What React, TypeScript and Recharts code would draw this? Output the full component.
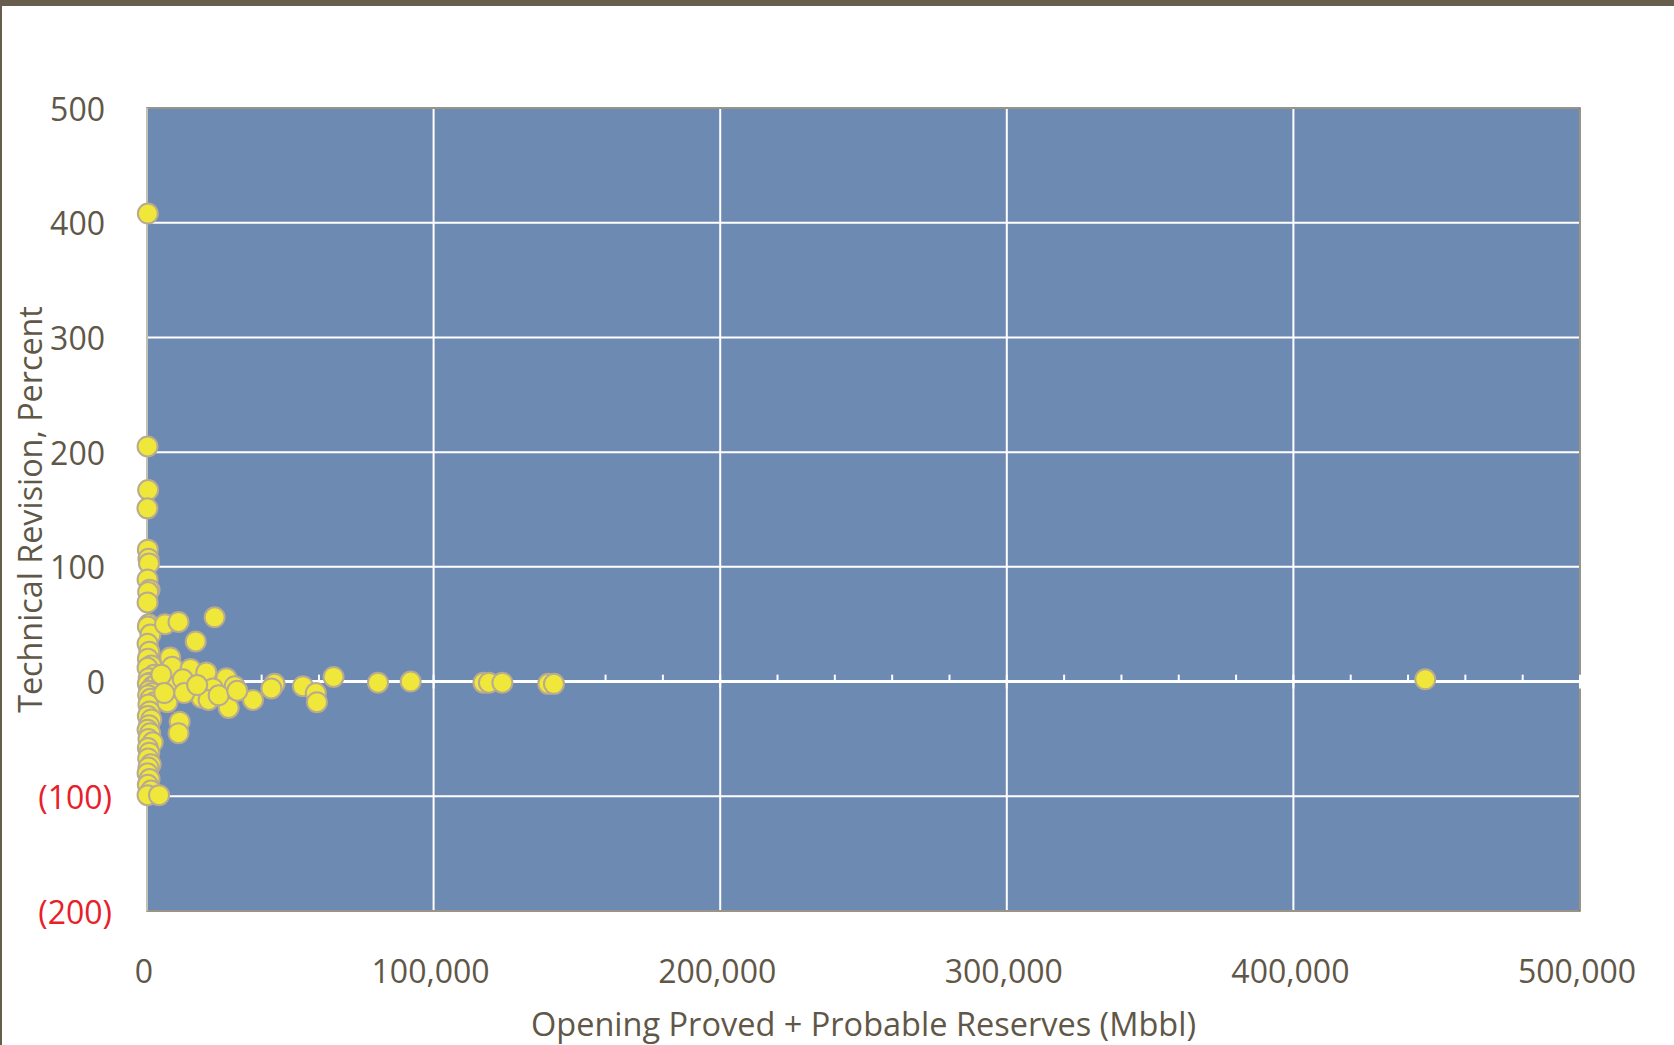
import { ScatterChart, Scatter, XAxis, YAxis, CartesianGrid, ReferenceLine, ReferenceArea, Label } from 'recharts';

// Fields with small opening reserves (Mbbl) and their technical revision (%)
const smallReserves = [
  300, 200, 400, 150, 300, 500, 700, 200, 900, 400, 200, 600, 300, 1200, 200, 800, 300, 1500, 200, 2500,
  600, 1000, 300, 2000, 3000, 700, 1800, 400, 1200, 2600, 500, 900, 300, 1500, 700, 200, 1100, 500, 2000, 300,
  800, 400, 1300, 500, 200, 900, 300, 1400, 200, 4200,
];
const smallRevision = [
  408, 205, 167, 151, 115, 107, 103, 89, 80, 78, 69, 50, 48, 41, 33, 26, 20, 14, 12, 6,
  3, -1, -2, -4, -3, -8, -10, -12, -15, -18, -20, -26, -30, -33, -38, -42, -45, -50, -53, -58,
  -62, -67, -72, -75, -80, -85, -90, -95, -99, -99,
];

// Larger fields
const largeReserves = [
  6300, 11000, 23600, 17000, 8100, 8800, 15200, 20700, 27700, 30600, 37000, 28500, 23000, 15700, 19000, 21500,
  11400, 11000, 7100, 9500, 12500, 5000, 6000, 13000, 17500, 25000, 31500, 44500, 43400, 54400, 58900, 59300,
  65100, 80600, 92000, 117400, 119300, 124000, 140000, 142000, 446000,
];
const largeRevision = [
  50, 52, 56, 35, 21, 13, 11, 8, 3, -4, -16, -23, -6, -6, -14, -16,
  -35, -45, -18, -5, 2, 6, -10, -10, -3, -12, -8, -2, -6, -4, -10, -18,
  4, -1, 0, -1, -1, -1, -2, -2, 2,
];

const xTicks = [0, 100000, 200000, 300000, 400000, 500000];
const xMinorTicks = [
  20000, 40000, 60000, 80000, 120000, 140000, 160000, 180000, 220000, 240000, 260000, 280000,
  320000, 340000, 360000, 380000, 420000, 440000, 460000, 480000,
];
const yTicks = [-200, -100, 0, 100, 200, 300, 400, 500];

const smallFields = smallReserves.map((x, i) => ({ x, y: smallRevision[i] }));
const largeFields = largeReserves.map((x, i) => ({ x, y: largeRevision[i] }));

const TEXT = '#5f5747';
const RED = '#e8202a';
const PLOT_BG = '#6d8ab3';

const Dot = (props: any) => (
  <circle cx={props.cx} cy={props.cy} r={10} fill="#efe83a" stroke="#b8ab8f" strokeWidth={2} />
);

const YTick = ({ x, y, payload }: any) => {
  const v = payload.value as number;
  const neg = v < 0;
  return (
    <text
      x={neg ? x - 33 : x - 40}
      y={y}
      textAnchor="end"
      dominantBaseline="central"
      fontSize={32}
      fill={neg ? RED : TEXT}
    >
      {neg ? `(${Math.abs(v)})` : v}
    </text>
  );
};

const XTick = ({ x, y, payload }: any) => (
  <text x={x - 3} y={y + 57} textAnchor="middle" dominantBaseline="central" fontSize={32} fill={TEXT}>
    {(payload.value as number).toLocaleString('en-US')}
  </text>
);

export default function App() {
  return (
    <div
      style={{
        position: 'fixed',
        left: 0,
        top: 0,
        width: 1674,
        height: 1045,
        background: '#fff',
        fontFamily: "'Open Sans', sans-serif",
      }}
    >
      <div style={{ position: 'absolute', left: 0, top: 0, width: 1674, height: 6, background: '#675e4e' }} />
      <div style={{ position: 'absolute', left: 0, top: 0, width: 2, height: 1045, background: '#675e4e' }} />
      <ScatterChart width={1674} height={1045} margin={{ top: 108, right: 94, bottom: 4, left: 0 }}>
        <CartesianGrid
          fill={PLOT_BG}
          fillOpacity={1}
          stroke="#ffffff"
          strokeWidth={2}
          horizontalValues={yTicks}
          verticalValues={xTicks}
        />
        <ReferenceArea
          x1={0}
          x2={500000}
          y1={-200}
          y2={500}
          fill="none"
          fillOpacity={0}
          stroke="#7a7262"
          strokeWidth={1.5}
          ifOverflow="visible"
        />
        <XAxis
          type="number"
          dataKey="x"
          domain={[0, 500000]}
          ticks={xTicks}
          tick={<XTick />}
          tickLine={false}
          axisLine={false}
          tickSize={0}
          height={130}
        >
          <Label
            content={({ viewBox }: any) => (
              <text
                x={viewBox.x + viewBox.width / 2}
                y={1023}
                textAnchor="middle"
                dominantBaseline="central"
                fontSize={32.5}
                fill={TEXT}
              >
                Opening Proved + Probable Reserves (Mbbl)
              </text>
            )}
          />
        </XAxis>
        <YAxis
          type="number"
          dataKey="y"
          domain={[-200, 500]}
          ticks={yTicks}
          tick={<YTick />}
          tickLine={false}
          tickSize={0}
          axisLine={{ stroke: '#c4bfb5', strokeWidth: 2 }}
          width={147}
        >
          <Label
            content={({ viewBox }: any) => (
              <text
                x={29}
                y={viewBox.y + viewBox.height / 2}
                transform={`rotate(-90 29 ${viewBox.y + viewBox.height / 2})`}
                textAnchor="middle"
                dominantBaseline="central"
                fontSize={32.3}
                fill={TEXT}
              >
                Technical Revision, Percent
              </text>
            )}
          />
        </YAxis>
        <ReferenceLine y={0} stroke="#ffffff" strokeWidth={3} />
        {xMinorTicks.map((v) => (
          <ReferenceLine
            key={v}
            segment={[{ x: v, y: 0 }, { x: v, y: 6 }]}
            stroke="#ffffff"
            strokeWidth={2}
          />
        ))}
        {xTicks.slice(1).map((v) => (
          <ReferenceLine
            key={`M${v}`}
            segment={[{ x: v, y: -6 }, { x: v, y: 6 }]}
            stroke="#ffffff"
            strokeWidth={2}
          />
        ))}
        <Scatter data={smallFields} shape={Dot} isAnimationActive={false} />
        <Scatter data={largeFields} shape={Dot} isAnimationActive={false} />
      </ScatterChart>
    </div>
  );
}
